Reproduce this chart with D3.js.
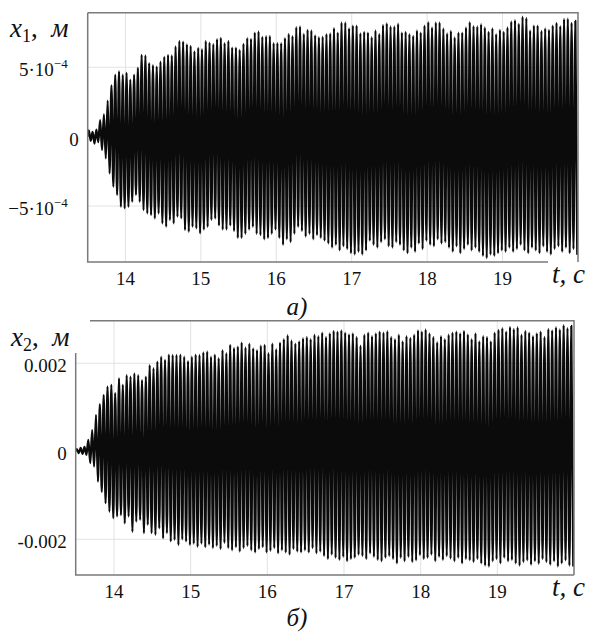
<!DOCTYPE html>
<html>
<head>
<meta charset="utf-8">
<script src="https://cdn.jsdelivr.net/npm/d3@7"></script>
<style>
  body { margin: 0; background: #fff; }
  svg text { font-family: "Liberation Serif", serif; }
</style>
</head>
<body>
<div id="chart-area"></div>
<script>
// time axis: one oscillation per period, starting at tStart
let tStart = 13.5;
let tEnd = 20;
let period = 0.05;
let tTicks = [14, 15, 16, 17, 18, 19];

// x1 peaks / troughs per cycle, in 1e-4 m
let x1Upper = [0.45, 0.35, 0.5, 1.2, 1.6, 2.6, 3.7, 4.45, 4.7, 4.45,
  4.6, 4.1, 4.45, 4.95, 5.9, 5.85, 5.3, 5.15, 5.05, 5.4,
  5.75, 5.9, 5.85, 6.5, 6.9, 6.85, 6.65, 6.55, 6.15, 6.4,
  6.3, 6.9, 6.78, 6.66, 7.03, 7.12, 6.74, 6.9, 6.42, 6.42,
  6.26, 6.69, 7.1, 7.05, 7.5, 7.58, 7.19, 7.24, 7.26, 6.74,
  6.74, 6.74, 7.1, 7.4, 7.25, 7.89, 7.94, 7.4, 7.7, 7.65,
  7.3, 7.17, 7.2, 7.39, 7.44, 7.82, 7.5, 8.23, 8.23, 7.8,
  8.0, 8.0, 7.44, 7.55, 7.5, 7.17, 7.65, 7.4, 8.05, 8.17,
  7.94, 7.94, 8.14, 7.5, 7.55, 7.39, 7.27, 7.65, 7.5, 8.0,
  8.26, 7.87, 8.23, 8.23, 7.8, 7.44, 7.62, 7.15, 7.5, 7.5,
  7.87, 8.26, 7.97, 7.94, 8.1, 7.87, 7.55, 7.8, 7.39, 7.7,
  7.55, 7.87, 8.3, 8.4, 8.13, 8.64, 8.55, 7.65, 8.0, 8.0,
  7.62, 7.8, 7.7, 8.0, 8.2, 7.97, 8.48, 8.5, 8.2, 8.34];
let x1Lower = [-0.3, -0.5, -0.4, -0.96, -1.56, -2.65, -3.6, -4.2, -5.05, -5.17,
  -5.05, -4.69, -4.2, -4.69, -5.29, -5.53, -5.65, -5.89, -5.53, -6.25,
  -6.49, -6.01, -6.25, -5.77, -5.89, -6.73, -6.85, -6.49, -6.61, -6.97,
  -6.7, -6.5, -6.0, -5.9, -6.4, -6.7, -6.7, -6.4, -6.8, -7.3,
  -7.3, -7.0, -6.7, -6.5, -7.0, -7.1, -7.4, -7.3, -7.0, -6.7,
  -7.3, -7.8, -7.4, -7.6, -7.0, -6.5, -6.8, -7.2, -7.0, -7.4,
  -7.1, -7.3, -7.5, -7.7, -8.0, -7.8, -8.2, -7.9, -8.1, -8.4,
  -8.5, -8.3, -8.5, -8.2, -7.5, -7.8, -8.0, -7.6, -7.4, -7.9,
  -8.0, -7.6, -7.8, -8.2, -8.4, -8.0, -8.3, -7.7, -8.1, -7.5,
  -7.8, -7.9, -7.4, -7.7, -7.6, -8.0, -8.3, -7.9, -8.4, -8.1,
  -7.8, -8.2, -8.0, -8.3, -8.6, -8.75, -8.5, -8.6, -8.4, -8.2,
  -8.3, -8.0, -8.3, -8.1, -7.8, -8.2, -8.4, -8.0, -8.2, -8.4,
  -7.9, -8.3, -8.5, -8.1, -7.9, -8.3, -8.0, -8.4, -8.1, -8.5];

// x2 peaks / troughs per cycle, in 1e-3 m
let x2Upper = [0.05, 0.08, 0.1, 0.26, 0.48, 0.83, 1.07, 1.28, 1.47, 1.51,
  1.32, 1.66, 1.51, 1.73, 1.7, 1.77, 1.73, 1.62, 1.7, 1.96,
  1.89, 2.04, 2.15, 2.08, 2.2, 2.19, 2.19, 2.2, 2.15, 2.05,
  2.15, 2.2, 2.19, 2.25, 2.27, 2.15, 2.2, 2.12, 2.3, 2.23,
  2.42, 2.35, 2.38, 2.47, 2.36, 2.45, 2.34, 2.3, 2.4, 2.42,
  2.23, 2.45, 2.32, 2.47, 2.55, 2.64, 2.52, 2.45, 2.5, 2.57,
  2.6, 2.55, 2.65, 2.62, 2.7, 2.6, 2.68, 2.74, 2.72, 2.75,
  2.7, 2.66, 2.68, 2.6, 2.4, 2.65, 2.7, 2.62, 2.68, 2.72,
  2.7, 2.73, 2.6, 2.55, 2.65, 2.5, 2.62, 2.58, 2.65, 2.75,
  2.72, 2.77, 2.68, 2.6, 2.48, 2.62, 2.55, 2.65, 2.7, 2.72,
  2.68, 2.74, 2.66, 2.55, 2.68, 2.5, 2.62, 2.6, 2.5, 2.7,
  2.76, 2.8, 2.72, 2.83, 2.78, 2.82, 2.65, 2.74, 2.7, 2.62,
  2.68, 2.72, 2.6, 2.78, 2.75, 2.82, 2.77, 2.87, 2.8, 2.85];
let x2Lower = [-0.04, -0.06, -0.08, -0.27, -0.35, -0.69, -0.92, -1.18, -1.37, -1.52,
  -1.48, -1.45, -1.64, -1.48, -1.83, -1.6, -1.56, -1.86, -1.67, -1.86,
  -1.9, -1.75, -1.98, -1.86, -2.05, -2.01, -2.13, -2.0, -2.05, -2.13,
  -2.1, -2.17, -2.1, -2.18, -2.12, -2.2, -2.15, -2.22, -2.08, -2.2,
  -2.25, -2.18, -2.28, -2.2, -2.15, -2.25, -2.3, -2.22, -2.18, -2.3,
  -2.26, -2.2, -2.32, -2.25, -2.3, -2.35, -2.22, -2.28, -2.3, -2.25,
  -2.3, -2.2, -2.32, -2.28, -2.38, -2.45, -2.35, -2.42, -2.47, -2.4,
  -2.5, -2.45, -2.42, -2.35, -2.38, -2.45, -2.32, -2.4, -2.47, -2.5,
  -2.42, -2.38, -2.45, -2.55, -2.42, -2.5, -2.4, -2.52, -2.48, -2.36,
  -2.45, -2.42, -2.35, -2.5, -2.4, -2.47, -2.38, -2.44, -2.5, -2.42,
  -2.55, -2.45, -2.48, -2.52, -2.45, -2.55, -2.6, -2.62, -2.5, -2.45,
  -2.55, -2.42, -2.5, -2.47, -2.55, -2.6, -2.52, -2.48, -2.58, -2.5,
  -2.56, -2.45, -2.52, -2.58, -2.5, -2.62, -2.55, -2.48, -2.6, -2.62];

let x1Ticks = [5e-4, 0, -5e-4];
let x1TickLabels = [["5·10", "−4"], ["0"], ["−5·10", "−4"]];
let x2Ticks = [0.002, 0, -0.002];
let x2TickLabels = [["0.002"], ["0"], ["-0.002"]];

let svg = d3.select('#chart-area')
            .append('svg')
            .attr('width', 590)
            .attr('height', 632)
            .style('background', '#fff');

function buildSeries(upper, lower, unit) {
    let pts = [{t: tStart, v: 0}];
    upper.forEach(function(u, i) {
        pts.push({t: tStart + period * (i + 0.3), v: u * unit});
        pts.push({t: tStart + period * (i + 0.8), v: lower[i] * unit});
    });
    return pts;
}

function drawPanel(p) {
    let x = d3.scaleLinear().domain([tStart, tEnd]).range([p.left, p.right]);
    let y = d3.scaleLinear().domain(p.yDomain).range([p.bottom, p.top]);
    let g = svg.append('g').attr('fill', '#111');

    // grid
    g.selectAll('.vgrid').data(tTicks).enter().append('line')
        .attr('x1', d => x(d)).attr('x2', d => x(d))
        .attr('y1', p.top).attr('y2', p.bottom)
        .attr('stroke', '#e2e2e2').attr('stroke-width', 1);
    g.selectAll('.hgrid').data(p.yTicks).enter().append('line')
        .attr('x1', p.left).attr('x2', p.right)
        .attr('y1', d => y(d)).attr('y2', d => y(d))
        .attr('stroke', '#e2e2e2').attr('stroke-width', 1);

    // signal
    let clipId = 'clip' + p.name;
    svg.append('clipPath').attr('id', clipId).append('rect')
        .attr('x', p.left).attr('y', p.top)
        .attr('width', p.right - p.left).attr('height', p.bottom - p.top);
    let line = d3.line()
        .x(d => x(d.t))
        .y(d => y(d.v))
        .curve(d3.curveMonotoneX);
    g.append('path')
        .datum(p.series)
        .attr('clip-path', 'url(#' + clipId + ')')
        .attr('d', line)
        .attr('fill', 'none')
        .attr('stroke', '#0b0b0b')
        .attr('stroke-width', 2.2)
        .attr('stroke-linejoin', 'round');

    // frame
    let frame = d3.path();
    frame.moveTo(p.frameTopStart, p.top); frame.lineTo(p.right, p.top);
    frame.lineTo(p.right, p.bottom);
    frame.moveTo(p.frameBottomEnd, p.bottom); frame.lineTo(p.left, p.bottom);
    frame.lineTo(p.left, p.frameLeftStart);
    g.append('path').attr('d', frame.toString())
        .attr('fill', 'none').attr('stroke', '#7a7a7a').attr('stroke-width', 1.5);

    // x tick labels
    g.selectAll('.xt').data(tTicks).enter().append('text')
        .attr('x', d => x(d)).attr('y', p.bottom + 23)
        .attr('text-anchor', 'middle').attr('font-size', 19)
        .text(d => d);

    // y tick labels
    let yt = g.selectAll('.yt').data(p.yTicks).enter().append('text')
        .attr('x', (d, i) => p.yLabels[i][1] ? p.left - 20 : p.left - 9)
        .attr('y', d => y(d) + 9)
        .attr('text-anchor', 'end').attr('font-size', 19);
    yt.each(function(d, i) {
        let lab = p.yLabels[i];
        let t = d3.select(this);
        t.append('tspan').text(lab[0]);
        if (lab[1]) {
            t.append('tspan').attr('font-size', 13).attr('dy', -8).text(lab[1]);
        }
    });

    // axis names
    let yl = g.append('text').attr('x', p.yNameX).attr('y', p.yNameY).attr('font-size', 27);
    yl.append('tspan').attr('font-style', 'italic').text('x');
    yl.append('tspan').attr('font-size', 18).attr('dy', 5).text(p.sub);
    yl.append('tspan').attr('dy', -5).text(',\u2002');
    yl.append('tspan').attr('font-style', 'italic').text('м');

    g.append('text').attr('x', 552).attr('y', p.bottom + 21)
        .attr('font-size', 27).attr('font-style', 'italic').text('t, с');

    g.append('text').attr('x', 297).attr('y', p.captionY)
        .attr('text-anchor', 'middle')
        .attr('font-size', 25).attr('font-style', 'italic').text(p.caption);
}

drawPanel({
    name: 'a', left: 87.7, right: 578, top: 12.7, bottom: 262,
    yDomain: [-9.03e-4, 8.93e-4],
    yTicks: x1Ticks,
    yLabels: x1TickLabels,
    series: buildSeries(x1Upper, x1Lower, 1e-4),
    frameTopStart: 87.7, frameLeftStart: 12.7, frameBottomEnd: 548,
    yNameX: 10, yNameY: 37, sub: '1',
    caption: 'а)', captionY: 315
});

drawPanel({
    name: 'b', left: 75.7, right: 574, top: 320.7, bottom: 575,
    yDomain: [-2.811e-3, 2.968e-3],
    yTicks: x2Ticks,
    yLabels: x2TickLabels,
    series: buildSeries(x2Upper, x2Lower, 1e-3),
    frameTopStart: 90, frameLeftStart: 353, frameBottomEnd: 574,
    yNameX: 11, yNameY: 346, sub: '2',
    caption: 'б)', captionY: 626
});
</script>
</body>
</html>
